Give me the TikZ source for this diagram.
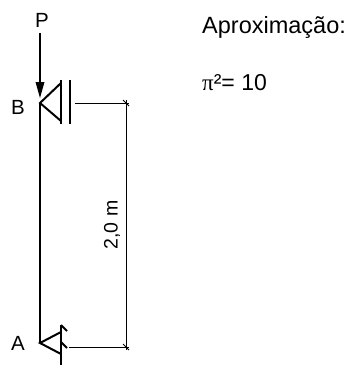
\documentclass[tikz,border=0pt]{standalone}
\usepackage{fontspec}
\setmainfont{Liberation Sans}
\newfontfamily\pifont{Liberation Serif}
\begin{document}
\begin{tikzpicture}[x=1pt,y=-1pt,
  thick line/.style={line width=2pt},
  dimline/.style={line width=0.8pt},
  lbl/.style={font=\fontsize{20.5}{24}\selectfont, inner sep=0pt}]
\useasboundingbox (0,0) rectangle (349,365);
% nodes / coordinates
\coordinate (B) at (40,103);
\coordinate (A) at (40,343);
\node[lbl] (P) at (42,20) {P};
\node[lbl] (Bl) at (18,107) {B};
\node[lbl] (Al) at (18,343) {A};
\coordinate (Ptop) at (40,33);
% column
\draw[thick line] (B) -- (A);
% load arrow
\draw[line width=1.6pt] (Ptop) -- (40,84);
\fill (35.5,82) -- (44.5,82) -- (40,98) -- cycle;
% support B
\draw[thick line, line join=miter] (61,83) -- (B) -- (61,121);
\draw[thick line] (61,80) -- (61,124);
\draw[thick line] (70,80) -- (70,124);
% support A
\draw[thick line, line join=miter] (61,332) -- (A) -- (61,354);
\draw[thick line] (61,325) -- (61,365);
\draw[thick line] (61,325) -- (67,331);
\draw[thick line] (61,342) -- (67,348);
% dimension
\coordinate (D1) at (126,103);
\coordinate (D2) at (126,347);
\draw[dimline] (75,103) -- (129,103);
\draw[dimline] (69,347) -- (129,347);
\draw[dimline] (126,100) -- (126,350);
\draw[dimline] (123,100) -- (129,106);
\draw[dimline] (123,344) -- (129,350);
\node[lbl, rotate=90, font=\fontsize{19.5}{22}\selectfont] (dim) at (112,225) {2,0 m};
% text
\node[anchor=west, inner sep=0pt, font=\fontsize{23.5}{28}\selectfont] (apr) at (202,27) {Aproximação:};
\node[anchor=west, inner sep=0pt, font=\fontsize{23}{27}\selectfont] (pi) at (202,83) {{\pifont π}²= 10};
\end{tikzpicture}
\end{document}
